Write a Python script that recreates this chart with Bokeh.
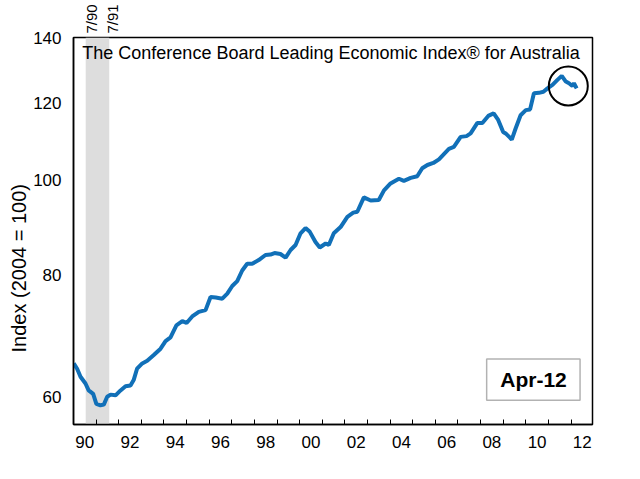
import math
from bokeh.plotting import figure
from bokeh.models import (FixedTicker, BoxAnnotation, Label, Range1d, LinearAxis,
                          PrintfTickFormatter, CustomJSTickFormatter, Title)
from bokeh.embed import file_html
from bokeh.resources import INLINE

# ---- data ----
dates = [1990.01, 1990.16, 1990.31, 1990.53, 1990.67, 1990.87, 1991.01, 1991.19,
         1991.34, 1991.49, 1991.64, 1991.86, 1992.08, 1992.30, 1992.52, 1992.66,
         1992.81, 1993.04, 1993.26, 1993.55, 1993.85, 1994.07, 1994.29, 1994.55,
         1994.81, 1995.00, 1995.25, 1995.54, 1995.84, 1996.06, 1996.29, 1996.58,
         1996.80, 1997.02, 1997.24, 1997.46, 1997.68, 1997.90, 1998.19, 1998.49,
         1998.71, 1998.89, 1999.15, 1999.38, 1999.60, 1999.82, 2000.04, 2000.26,
         2000.45, 2000.70, 2000.89, 2001.15, 2001.29, 2001.51, 2001.81, 2002.11,
         2002.37, 2002.55, 2002.84, 2003.14, 2003.50, 2003.73, 2004.02, 2004.39,
         2004.61, 2004.91, 2005.20, 2005.42, 2005.65, 2005.91, 2006.16, 2006.38,
         2006.60, 2006.82, 2007.12, 2007.38, 2007.56, 2007.86, 2008.08, 2008.34,
         2008.58, 2008.78, 2009.00, 2009.11, 2009.30, 2009.38, 2009.55, 2009.77,
         2010.00, 2010.19, 2010.36, 2010.58, 2010.78, 2010.96, 2011.18, 2011.40,
         2011.59, 2011.77, 2011.91, 2012.06, 2012.13, 2012.25]
values = [65.0, 64.2, 63.0, 62.0, 61.0, 60.5, 59.1, 58.9,
          59.0, 60.1, 60.4, 60.3, 61.0, 61.6, 61.7, 62.5,
          64.2, 65.0, 65.4, 66.3, 67.3, 68.5, 69.1, 71.1,
          71.8, 71.5, 72.6, 73.4, 73.7, 76.0, 75.9, 75.7,
          76.6, 78.0, 78.9, 80.9, 82.2, 82.2, 82.9, 83.9,
          84.0, 84.3, 84.1, 83.4, 84.9, 85.9, 88.3, 89.4,
          88.6, 86.5, 85.4, 86.2, 85.9, 88.3, 89.6, 91.8,
          92.7, 92.9, 96.1, 95.4, 95.5, 97.7, 99.3, 100.4,
          99.9, 100.6, 101.0, 102.9, 103.7, 104.2, 105.1, 106.4,
          107.7, 108.2, 110.8, 111.0, 111.7, 114.5, 114.5, 116.4,
          117.1, 115.3, 112.1, 111.7, 110.6, 110.1, 113.0, 116.6,
          118.0, 118.2, 122.8, 122.9, 123.2, 124.2, 125.2, 126.7,
          127.9, 126.2, 125.7, 124.9, 125.7, 124.2]

year_tick_marks = list(range(1991, 2013))
year_label_pos = [1990.5 + 2 * i for i in range(12)]
y_ticks = [60, 80, 100, 120, 140]
recession = (1990.54, 1991.58)
recession_label_pos = [1990.79, 1991.72]
recession_labels = ["7/90", "7/91"]
title_text = "The Conference Board Leading Economic Index\u00ae for Australia"
y_title = "Index (2004 = 100)"
date_box_text = "Apr-12"

FONT = "Liberation Sans"
BLUE = "#1170b8"

p = figure(width=624, height=463, y_axis_type="log",
           x_range=Range1d(1990, 2012.95), y_range=Range1d(56.3, 140),
           output_backend="svg", toolbar_location=None,
           min_border_left=73, min_border_right=32,
           min_border_top=37, min_border_bottom=39)

p.xgrid.visible = False
p.ygrid.visible = False
p.outline_line_color = "black"
p.outline_line_width = 1.5
p.background_fill_color = "white"
p.border_fill_color = "white"

# x axis (bottom)
xa = p.xaxis[0]
xa.ticker = FixedTicker(ticks=year_label_pos, minor_ticks=year_tick_marks)
xa.formatter = CustomJSTickFormatter(code="return String(Math.floor(tick) % 100).padStart(2, '0');")
xa.major_tick_in = 0
xa.major_tick_out = 0
xa.minor_tick_in = 5
xa.minor_tick_out = 0
xa.minor_tick_line_color = "black"
xa.minor_tick_line_width = 1
xa.axis_line_color = "black"
xa.axis_line_width = 1.5
xa.major_label_text_font = FONT
xa.major_label_text_font_size = "17px"
xa.major_label_text_color = "black"
xa.major_label_standoff = 11

# recession labels (axis above)
top_axis = LinearAxis(
    ticker=FixedTicker(ticks=recession_label_pos),
    formatter=CustomJSTickFormatter(args=dict(labels=recession_labels),
                                    code="return labels[index];"),
    major_tick_in=0, major_tick_out=0, minor_tick_in=0, minor_tick_out=0,
    axis_line_alpha=0, major_label_orientation="vertical",
    major_label_standoff=4, major_label_text_font=FONT,
    major_label_text_font_size="15px", major_label_text_color="black")
p.add_layout(top_axis, "above")

# y axis
ya = p.yaxis[0]
ya.ticker = FixedTicker(ticks=y_ticks)
ya.formatter = PrintfTickFormatter(format="%d")
ya.major_tick_in = 0
ya.major_tick_out = 0
ya.minor_tick_in = 0
ya.minor_tick_out = 0
ya.axis_line_color = "black"
ya.axis_line_width = 1.5
ya.major_label_text_font = FONT
ya.major_label_text_font_size = "17px"
ya.major_label_text_color = "black"
ya.major_label_standoff = 12

p.add_layout(Title(text=y_title, align="left", offset=72, standoff=2,
                   text_font=FONT, text_font_size="20px",
                   text_font_style="normal", text_color="black"), "left")

# recession shading
p.add_layout(BoxAnnotation(left=recession[0], right=recession[1],
                           fill_color="#dddddd", fill_alpha=1.0,
                           line_alpha=0, level="underlay"))

# series
p.line(dates, values, line_color=BLUE, line_width=4)

# title inside plot
p.add_layout(Label(x=1990.39, y=135.0, text=title_text, text_font=FONT,
                   text_font_size="18px", text_color="black",
                   text_baseline="middle", text_align="left"))

# date box
p.add_layout(BoxAnnotation(left=2008.27, right=2012.40, bottom=59.6, top=65.7,
                           fill_color="white", fill_alpha=1.0,
                           line_color="black", line_width=1.5))
p.add_layout(Label(x=2010.34, y=62.6, text=date_box_text, text_font=FONT,
                   text_font_size="21px", text_font_style="bold",
                   text_color="black", text_align="center",
                   text_baseline="middle"))

# highlight circle
p.scatter(x=[2011.88], y=[124.9], marker="circle", size=39,
          fill_alpha=0, line_color="black", line_width=2)

open("out.html", "w").write(file_html(p, INLINE))
